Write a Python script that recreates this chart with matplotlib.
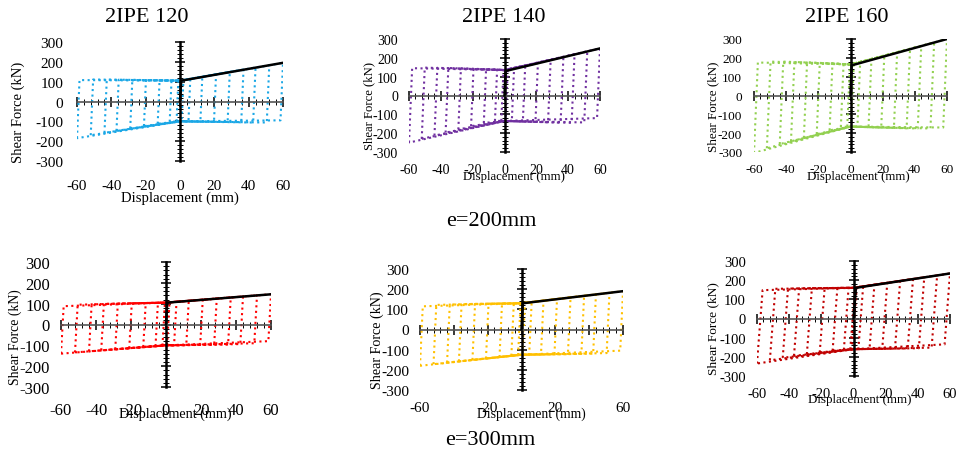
import matplotlib
matplotlib.use("Agg")
import matplotlib.pyplot as plt
import numpy as np
from matplotlib.ticker import MultipleLocator

plt.rcParams['font.family'] = ['Liberation Serif', 'DejaVu Serif']

# cycle amplitudes (mm), shared by all specimens
amps = [2, 6, 13, 21, 29, 37, 44, 52, 60]

titles = ["2IPE 120", "2IPE 140", "2IPE 160", "", "", ""]
colors = ["#1AA7E6", "#7030A0", "#92D050", "#FF0000", "#FFC000", "#C00000"]

# backbone (black) : displacement / force
bb_x = [[0, 0.7, 60], [0, 0.7, 60], [0, 0.7, 60],
        [0, 0.7, 60], [0, 0.7, 60], [0, 1.5, 60]]
bb_y = [[0, 105, 195], [0, 130, 250], [0, 160, 300],
        [0, 105, 145], [0, 130, 190], [0, 160, 235]]

# loop corner forces (kN), one value per amplitude
pos_peak = [[108, 114, 125, 137, 149, 161, 171, 183, 195],
            [134, 142, 156, 172, 188, 204, 218, 234, 250],
            [165, 174, 190, 209, 228, 246, 263, 281, 300],
            [106, 109, 114, 119, 124, 130, 134, 140, 145],
            [132, 136, 143, 151, 159, 167, 174, 182, 190],
            [162, 168, 176, 186, 196, 206, 215, 225, 235]]
top_left = [[105, 106, 107, 108, 109, 110, 110, 111, 108],
            [136, 138, 140, 142, 144, 146, 147, 148, 145],
            [166, 168, 170, 173, 176, 178, 180, 180, 175],
            [105, 104, 103, 102, 100, 99, 97, 95, 88],
            [130, 130, 129, 128, 127, 126, 124, 122, 115],
            [160, 160, 160, 159, 158, 157, 156, 155, 148]]
bot_right = [[-100, -100, -101, -102, -103, -104, -106, -106, -95],
             [-135, -136, -138, -140, -142, -144, -145, -143, -120],
             [-165, -166, -168, -170, -172, -174, -175, -175, -170],
             [-100, -100, -99, -98, -97, -96, -94, -90, -80],
             [-125, -125, -124, -123, -122, -121, -120, -117, -105],
             [-160, -160, -159, -158, -157, -156, -155, -152, -135]]
neg_peak = [[-100, -102, -112, -124, -136, -148, -158, -170, -185],
            [-135, -135, -146, -163, -180, -197, -213, -230, -250],
            [-165, -167, -185, -205, -225, -243, -258, -280, -305],
            [-101, -104, -108, -114, -119, -124, -129, -134, -140],
            [-127, -130, -137, -144, -151, -158, -164, -172, -180],
            [-161, -163, -168, -177, -186, -195, -205, -218, -235]]
top_mid = [105, 135, 165, 105, 130, 160]
bot_mid = [-100, -135, -165, -100, -125, -160]
stiff = [200, 200, 200, 150, 180, 110]  # elastic unloading stiffness kN/mm

xtick_sets = [[-60, -40, -20, 0, 20, 40, 60]] * 4 + [[-60, -20, 20, 60]] + [[-60, -40, -20, 0, 20, 40, 60]]
ytick_vals = [-300, -200, -100, 0, 100, 200, 300]

# layout in pixels: left, right, top, bottom of the plot box
boxes = [(77, 283, 43, 162), (409, 600, 40, 153), (754, 947, 40, 153),
         (61, 271, 263, 388), (420, 623, 270, 391), (757, 950, 262, 377)]
title_pos = [(147, 17), (504, 17), (847, 17)]
xlab_pos = [(180, 198), (514, 177), (858, 177), (175, 414), (531, 414), (860, 400)]
ylab_pos = [(18, 112), (369, 106), (713, 107), (15, 337), (377, 340), (713, 329)]
xpad = [13, 8, 8, 11, 8, 8]
ypad = [10, 8, 8.5, 8, 8, 8]
fsize = [11, 10, 9.5, 12, 11, 10.5]
ylab_size = [10.5, 9.1, 9.4, 9.9, 10.1, 9.6]
xlab_size = [10.6, 9.2, 9.3, 10.2, 9.8, 9.4]

W, H = 959, 456
fig = plt.figure(figsize=(W / 100, H / 100), dpi=100)

for i in range(6):
    l, r, t, b = boxes[i]
    ax = fig.add_axes([l / W, 1 - b / H, (r - l) / W, (b - t) / H])
    ax.set_xlim(-60, 60)
    ax.set_ylim(-300, 300)
    ax.patch.set_alpha(0)

    k = stiff[i]
    for j, a in enumerate(amps):
        y1 = neg_peak[i][j]
        y2 = top_left[i][j]
        y3 = pos_peak[i][j]
        y4 = bot_right[i][j]
        xs = [-a, -a + (y2 - y1) / k, 0, a, a - (y3 - y4) / k, 0, -a]
        ys = [y1, y2, top_mid[i], y3, y4, bot_mid[i], y1]
        ax.plot(xs, ys, color=colors[i], ls=':', lw=1.5, zorder=2)
    ax.plot(bb_x[i], bb_y[i], color='black', lw=1.8, zorder=3)

    for s in ['top', 'right']:
        ax.spines[s].set_visible(False)
    ax.spines['left'].set_position(('data', 0))
    ax.spines['bottom'].set_position(('data', 0))
    ax.spines['left'].set_linewidth(1.8)
    ax.spines['bottom'].set_color('#555555')
    ax.spines['bottom'].set_linewidth(1.2)
    ax.xaxis.set_major_locator(MultipleLocator(20))
    ax.xaxis.set_minor_locator(MultipleLocator(4))
    ax.yaxis.set_major_locator(MultipleLocator(100))
    ax.yaxis.set_minor_locator(MultipleLocator(20))
    ax.tick_params(which='major', direction='inout', length=7, width=1.1,
                   labelbottom=False, labelleft=False)
    ax.tick_params(which='minor', direction='inout', length=4, width=0.7)

    sx = ax.secondary_xaxis('bottom')
    sx.spines['bottom'].set_visible(False)
    sx.set_xticks(xtick_sets[i])
    sx.set_xticklabels([str(v) for v in xtick_sets[i]])
    sx.tick_params(length=0, pad=xpad[i], labelsize=fsize[i])
    sx.xaxis.set_minor_locator(plt.NullLocator())

    sy = ax.secondary_yaxis('left')
    sy.spines['left'].set_visible(False)
    sy.set_yticks(ytick_vals)
    sy.set_yticklabels([str(v) for v in ytick_vals])
    sy.tick_params(length=0, pad=ypad[i], labelsize=fsize[i])
    sy.yaxis.set_minor_locator(plt.NullLocator())

    xl, yl = xlab_pos[i]
    fig.text(xl / W, 1 - yl / H, "Displacement (mm)", ha='center', va='center',
             fontsize=xlab_size[i])
    xl, yl = ylab_pos[i]
    fig.text(xl / W, 1 - yl / H, "Shear Force (kN)", ha='center', va='center',
             rotation=90, fontsize=ylab_size[i])
    if titles[i]:
        tx, ty = title_pos[i]
        fig.text(tx / W, 1 - ty / H, titles[i], ha='center', va='center', fontsize=16)

fig.text(491 / W, 1 - 222 / H, "e=200mm", ha='center', va='center', fontsize=16)
fig.text(490 / W, 1 - 441 / H, "e=300mm", ha='center', va='center', fontsize=16)

fig.savefig("out.png", dpi=100)
